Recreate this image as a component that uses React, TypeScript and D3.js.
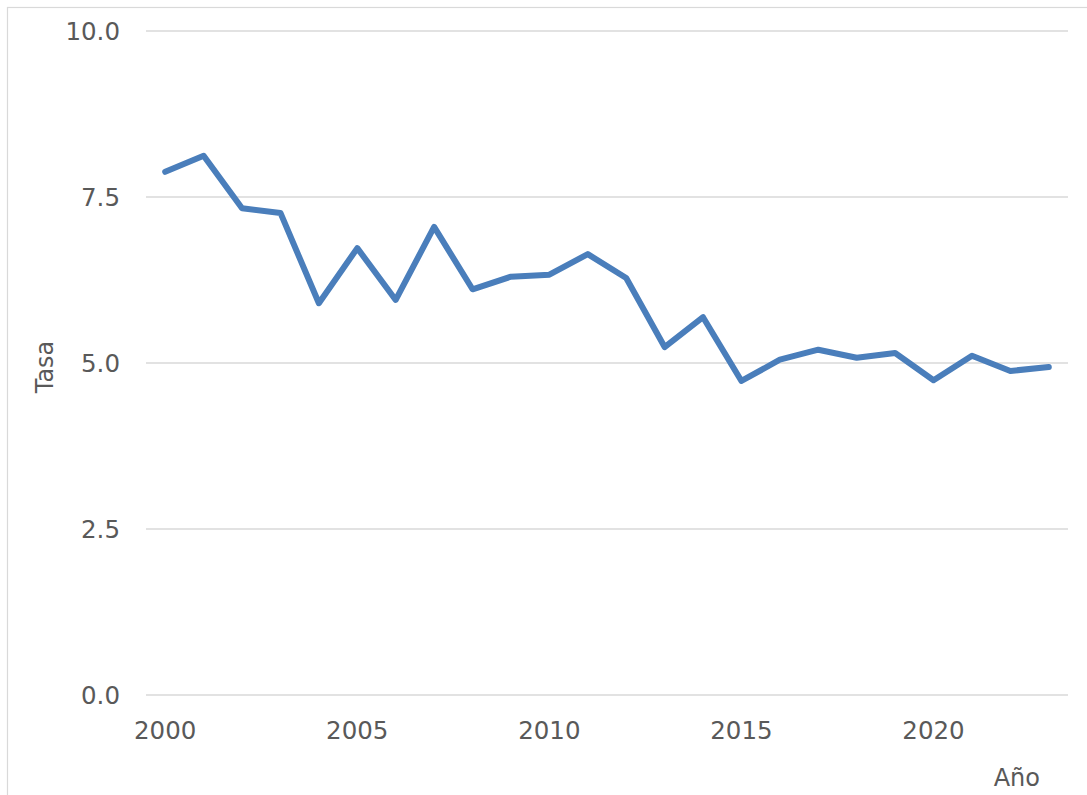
import React from "react";
import * as d3 from "d3";

const years: number[] = [2000, 2001, 2002, 2003, 2004, 2005, 2006, 2007, 2008, 2009, 2010, 2011, 2012, 2013, 2014, 2015, 2016, 2017, 2018, 2019, 2020, 2021, 2022, 2023];
const tasa: number[] = [7.88, 8.12, 7.33, 7.26, 5.9, 6.73, 5.95, 7.05, 6.11, 6.3, 6.33, 6.64, 6.28, 5.24, 5.69, 4.73, 5.05, 5.2, 5.08, 5.15, 4.74, 5.11, 4.88, 4.94];
const yTicks: number[] = [0, 2.5, 5, 7.5, 10];
const xTickYears: number[] = [2000, 2005, 2010, 2015, 2020];
const xTitle = "Año";
const yTitle = "Tasa";

export default function App() {
  const W = 1087, H = 795;
  const left = 146, right = 1068, top = 31, bottom = 695;
  const x = d3.scalePoint<number>().domain(years).range([left, right]).padding(0.5);
  const y = d3.scaleLinear().domain([0, 10]).range([bottom, top]);
  const line = d3.line<number>().x((_, i) => x(years[i]) as number).y((d) => y(d));
  const font = "'DejaVu Sans', Verdana, sans-serif";
  const textColor = "#595959";
  return (
    <svg width={W} height={H} style={{ position: "fixed", left: 0, top: 0 }} fontFamily={font}>
      <rect x={0} y={0} width={W} height={H} fill="#fff" />
      <rect x={7.5} y={7.5} width={W + 20} height={H + 20} fill="none" stroke="#d9d9d9" strokeWidth={1.2} />
      {yTicks.map((t) => (
        <g key={t}>
          <line x1={left} x2={right} y1={y(t)} y2={y(t)} stroke="#d9d9d9" strokeWidth={1.5} />
          <text x={120} y={y(t)} dy="0.36em" textAnchor="end" fontSize={24.5} fill={textColor}>
            {t.toFixed(1)}
          </text>
        </g>
      ))}
      {xTickYears.map((yr) => (
        <text key={yr} x={x(yr) as number} y={739} textAnchor="middle" fontSize={24.5} fill={textColor}>
          {yr}
        </text>
      ))}
      <path d={line(tasa) || ""} fill="none" stroke="#4a7ebb" strokeWidth={6} strokeLinejoin="round" strokeLinecap="round" />
      <text x={1040} y={786} textAnchor="end" fontSize={24} fill={textColor}>{xTitle}</text>
      <text transform={`translate(53,${(top + bottom) / 2 + 4}) rotate(-90)`} textAnchor="middle" fontSize={24} fill={textColor}>{yTitle}</text>
    </svg>
  );
}
